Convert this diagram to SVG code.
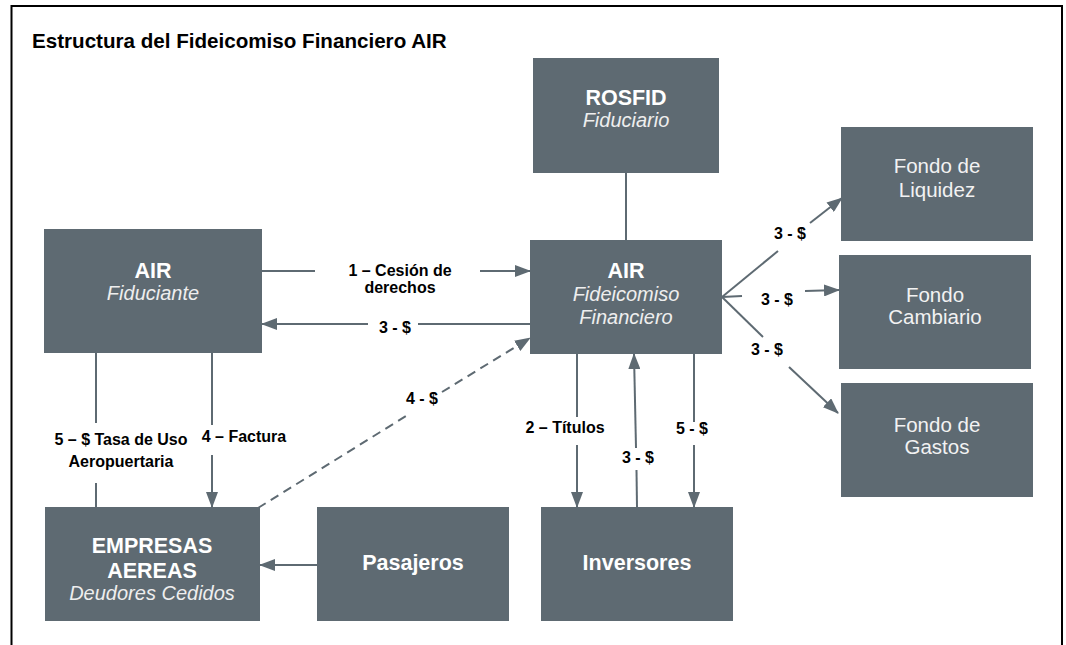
<svg xmlns="http://www.w3.org/2000/svg" width="1066" height="645" viewBox="0 0 1066 645">
<defs>
<style>
.node{fill:#5e6a72;}
.b{font-family:"Liberation Sans",Arial,sans-serif;font-weight:bold;font-size:21.5px;fill:#ffffff;text-anchor:middle;}
.i{font-family:"Liberation Sans",Arial,sans-serif;font-style:italic;font-size:20px;fill:#eeeeee;text-anchor:middle;}
.r{font-family:"Liberation Sans",Arial,sans-serif;font-size:20.5px;fill:#f2f2f2;text-anchor:middle;}
.lbl{font-family:"Liberation Sans",Arial,sans-serif;font-weight:bold;font-size:16px;fill:#000;text-anchor:middle;}
.ln{stroke:#5e6a72;stroke-width:2;fill:none;}
.dash{stroke-dasharray:9 6;}
</style>
<marker id="ah" markerUnits="userSpaceOnUse" markerWidth="16" markerHeight="12" refX="15" refY="6" orient="auto">
<path d="M0,0 L16,6 L0,12 z" fill="#5e6a72"/>
</marker>
</defs>
<rect x="0" y="0" width="1066" height="645" fill="#ffffff"/>
<path d="M11.5,650 L11.5,6 L1062,6 L1062,650" fill="none" stroke="#000" stroke-width="2"/>
<text x="32" y="48" font-family="Liberation Sans, Arial, sans-serif" font-weight="bold" font-size="20.6" fill="#000">Estructura del Fideicomiso Financiero AIR</text>

<g id="connectors">
<line class="ln" x1="626" y1="172" x2="626" y2="240"/>
<line class="ln" x1="262" y1="271" x2="315" y2="271"/>
<line class="ln" x1="480" y1="271" x2="530" y2="271" marker-end="url(#ah)"/>
<text class="lbl" x="400" y="276">1 – Cesión de</text>
<text class="lbl" x="400" y="293">derechos</text>
<line class="ln" x1="368" y1="324" x2="262" y2="324" marker-end="url(#ah)"/>
<line class="ln" x1="418" y1="324" x2="530" y2="324"/>
<text class="lbl" x="395" y="333">3 - $</text>
<line class="ln dash" x1="258" y1="508" x2="406" y2="416"/>
<line class="ln dash" x1="442" y1="392" x2="530" y2="338" marker-end="url(#ah)"/>
<text class="lbl" x="422" y="404">4 - $</text>
<line class="ln" x1="96" y1="353" x2="96" y2="423"/>
<line class="ln" x1="96" y1="483" x2="96" y2="507"/>
<text class="lbl" x="121" y="445">5 – $ Tasa de Uso</text>
<text class="lbl" x="121" y="467">Aeropuertaria</text>
<line class="ln" x1="212" y1="353" x2="212" y2="425"/>
<line class="ln" x1="212" y1="455" x2="212" y2="507" marker-end="url(#ah)"/>
<text class="lbl" x="244" y="442">4 – Factura</text>
<line class="ln" x1="317" y1="565" x2="260" y2="565" marker-end="url(#ah)"/>
<line class="ln" x1="577" y1="354" x2="577" y2="417"/>
<line class="ln" x1="577" y1="445" x2="577" y2="507" marker-end="url(#ah)"/>
<text class="lbl" x="565" y="433">2 – Títulos</text>
<line class="ln" x1="637" y1="507" x2="636.5" y2="470"/>
<line class="ln" x1="636" y1="448" x2="634" y2="354" marker-end="url(#ah)"/>
<text class="lbl" x="638" y="463">3 - $</text>
<line class="ln" x1="694" y1="354" x2="694" y2="422"/>
<line class="ln" x1="694" y1="445" x2="694" y2="507" marker-end="url(#ah)"/>
<text class="lbl" x="692" y="434">5 - $</text>
<line class="ln" x1="722" y1="297" x2="778" y2="251"/>
<line class="ln" x1="810" y1="223" x2="842" y2="198" marker-end="url(#ah)"/>
<text class="lbl" x="790" y="239">3 - $</text>
<line class="ln" x1="722" y1="297" x2="742" y2="296"/>
<line class="ln" x1="805" y1="291" x2="839" y2="290" marker-end="url(#ah)"/>
<text class="lbl" x="777" y="305">3 - $</text>
<line class="ln" x1="722" y1="297" x2="763" y2="337"/>
<line class="ln" x1="789" y1="367" x2="838" y2="413" marker-end="url(#ah)"/>
<text class="lbl" x="767" y="355">3 - $</text>
</g>

<g id="rosfid">
<rect class="node" x="533" y="58" width="186" height="115"/>
<text class="b" x="626" y="105">ROSFID</text>
<text class="i" x="626" y="127">Fiduciario</text>
</g>
<g id="air-ff">
<rect class="node" x="530" y="240" width="192" height="114"/>
<text class="b" x="626" y="278">AIR</text>
<text class="i" x="626" y="301">Fideicomiso</text>
<text class="i" x="626" y="324">Financiero</text>
</g>
<g id="air-fiduciante">
<rect class="node" x="44" y="229" width="218" height="124"/>
<text class="b" x="153" y="278">AIR</text>
<text class="i" x="153" y="300">Fiduciante</text>
</g>
<g id="empresas">
<rect class="node" x="45" y="507" width="215" height="114"/>
<text class="b" x="152" y="553">EMPRESAS</text>
<text class="b" x="152" y="578">AEREAS</text>
<text class="i" x="152" y="600">Deudores Cedidos</text>
</g>
<g id="pasajeros">
<rect class="node" x="317" y="507" width="192" height="114"/>
<text class="b" x="413" y="570">Pasajeros</text>
</g>
<g id="inversores">
<rect class="node" x="541" y="507" width="192" height="114"/>
<text class="b" x="637" y="570">Inversores</text>
</g>
<g id="fondo-liquidez">
<rect class="node" x="841" y="127" width="192" height="114"/>
<text class="r" x="937" y="173">Fondo de</text>
<text class="r" x="937" y="197">Liquidez</text>
</g>
<g id="fondo-cambiario">
<rect class="node" x="839" y="255" width="192" height="114"/>
<text class="r" x="935" y="302">Fondo</text>
<text class="r" x="935" y="324">Cambiario</text>
</g>
<g id="fondo-gastos">
<rect class="node" x="841" y="383" width="192" height="114"/>
<text class="r" x="937" y="432">Fondo de</text>
<text class="r" x="937" y="454">Gastos</text>
</g>
</svg>
